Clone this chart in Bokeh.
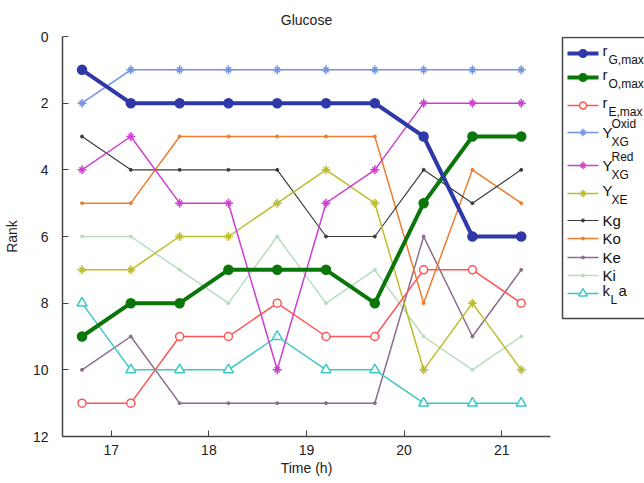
from bokeh.plotting import figure
from bokeh.models import Range1d, FixedTicker
from bokeh.layouts import row
from bokeh.embed import file_html
from bokeh.resources import INLINE
from bokeh.core.properties import value

# ---------------- data ----------------
times = [16.7, 17.2, 17.7, 18.2, 18.7, 19.2, 19.7, 20.2, 20.7, 21.2]
r_G_max = [1, 2, 2, 2, 2, 2, 2, 3, 6, 6]
r_O_max = [9, 8, 8, 7, 7, 7, 8, 5, 3, 3]
r_E_max = [11, 11, 9, 9, 8, 9, 9, 7, 7, 8]
Y_XG_oxid = [2, 1, 1, 1, 1, 1, 1, 1, 1, 1]
Y_XG_red = [4, 3, 5, 5, 10, 5, 4, 2, 2, 2]
Y_XE = [7, 7, 6, 6, 5, 4, 5, 10, 8, 10]
Kg = [3, 4, 4, 4, 4, 6, 6, 4, 5, 4]
Ko = [5, 5, 3, 3, 3, 3, 3, 8, 4, 5]
Ke = [10, 9, 11, 11, 11, 11, 11, 6, 9, 7]
Ki = [6, 6, 7, 8, 6, 8, 7, 9, 10, 9]
kLa = [8, 10, 10, 10, 9, 10, 10, 11, 11, 11]

x_ticks = [17, 18, 19, 20, 21]
y_ticks = [0, 2, 4, 6, 8, 10, 12]

leg_main = ["r", "r", "r", "Y", "Y", "Y", "Kg", "Ko", "Ke", "Ki", "k"]
leg_sub = ["G,max", "O,max", "E,max", "XG", "XG", "XE", "", "", "", "", "L"]
leg_sup = ["", "", "", "Oxid", "Red", "", "", "", "", "", ""]
leg_tail = ["", "", "", "", "", "", "", "", "", "", "a"]

FONT = "Liberation Sans"

# series styling: (values, color, width, marker, marker size, fill)
series = [
    (r_G_max, "#2f38a8", 4, "circle", 9, True),
    (r_O_max, "#0a760a", 4, "circle", 9, True),
    (r_E_max, "#ff5555", 1.5, "circle", 8, False),
    (Y_XG_oxid, "#7392e4", 1.5, "star8", 9, None),
    (Y_XG_red, "#cf3fcf", 1.5, "star8", 9, None),
    (Y_XE, "#bdbd2a", 1.5, "star8", 9, None),
    (Kg, "#3c3c3c", 1.2, "dot", 3, True),
    (Ko, "#f07c30", 1.5, "dot", 3, True),
    (Ke, "#8a6d8a", 1.5, "dot", 3, True),
    (Ki, "#b9dcc0", 1.5, "dot", 3, True),
    (kLa, "#3cc8c8", 1.5, "triangle", 10, False),
]

AX = "#444444"

p = figure(width=560, height=483, output_backend="svg", toolbar_location=None,
           x_range=Range1d(16.5, 21.5), y_range=Range1d(12, 0),
           min_border_left=60, min_border_right=10, min_border_top=36,
           min_border_bottom=47, title="Glucose")
p.title.align = "center"
p.title.text_font = FONT
p.title.text_font_size = "14px"
p.title.text_font_style = "normal"
p.title.text_color = "#222222"
p.title.standoff = 17
p.outline_line_color = None
p.grid.visible = False
p.background_fill_color = "white"
p.border_fill_color = "white"

for ax in (p.xaxis[0], p.yaxis[0]):
    ax.axis_line_color = AX
    ax.axis_line_width = 1.5
    ax.major_tick_line_color = AX
    ax.major_tick_in = 6
    ax.major_tick_out = 0
    ax.minor_tick_line_color = None
    ax.major_label_text_font = FONT
    ax.major_label_text_font_size = "14px"
    ax.major_label_text_color = "#222222"
    ax.axis_label_text_font = FONT
    ax.axis_label_text_font_size = "14px"
    ax.axis_label_text_font_style = "normal"
    ax.axis_label_text_color = "#222222"

p.xaxis.ticker = FixedTicker(ticks=x_ticks)
p.yaxis.ticker = FixedTicker(ticks=y_ticks)
p.xaxis.axis_label = "Time (h)"
p.yaxis.axis_label = "Rank"
p.xaxis.major_label_standoff = 8
p.xaxis.axis_label_standoff = 2
p.yaxis.major_label_standoff = 14
p.yaxis.axis_label_standoff = 10


def draw_markers(fig, xs, ys, color, marker, size, fill):
    if marker == "star8":
        fig.scatter(xs, ys, marker="cross", size=size, line_color=color, line_width=1.5)
        fig.scatter(xs, ys, marker="x", size=size * 0.8, line_color=color, line_width=1.5)
    elif marker == "dot":
        fig.scatter(xs, ys, marker="circle", size=size, line_color=color, fill_color=color)
    else:
        fig.scatter(xs, ys, marker=marker, size=size, line_color=color, line_width=1.5,
                    fill_color=color if fill else "white")


# draw thin lines first, thick on top
order = [9, 8, 7, 6, 10, 5, 4, 3, 2, 1, 0]
for i in order:
    vals, color, w, marker, ms, fill = series[i]
    p.line(times, vals, line_color=color, line_width=w)
    draw_markers(p, times, vals, color, marker, ms, fill)

# ---------------- legend panel ----------------
# the row aligns this frame with the main frame (page y 36..436),
# so the y range below makes data units equal page pixels.
lg = figure(width=84, height=483, output_backend="svg", toolbar_location=None,
            x_range=Range1d(0, 84), y_range=Range1d(436, 36),
            x_axis_type=None, y_axis_type=None, min_border=0)
lg.outline_line_color = None
lg.grid.visible = False
lg.quad(left=[2], right=[140], top=[37], bottom=[318], fill_color="white",
        line_color=AX, line_width=1.5)

leg_y = [53, 77, 105, 132, 165, 193, 220, 238, 257, 275, 293]
char_w = {"r": 6, "Y": 9, "k": 8}
for i, (vals, color, w, marker, ms, fill) in enumerate(series):
    y = leg_y[i]
    lg.line([7, 38], [y, y], line_color=color, line_width=w)
    draw_markers(lg, [22.5], [y], color, marker, ms * 0.85 if ms > 4 else ms, fill)
    main_y = y - 3 if leg_sub[i] and not leg_sup[i] else y
    lg.text([42], [main_y], text=[leg_main[i]], text_font=value(FONT),
            text_font_size="15px", text_baseline="middle", text_color="#111111")
    sx = 42 + char_w.get(leg_main[i], 8)
    if leg_sub[i]:
        lg.text([sx], [main_y + 9], text=[leg_sub[i]], text_font=value(FONT),
                text_font_size="12px", text_baseline="middle", text_color="#111111")
    if leg_sup[i]:
        lg.text([sx], [main_y - 9], text=[leg_sup[i]], text_font=value(FONT),
                text_font_size="12px", text_baseline="middle", text_color="#111111")
    if leg_tail[i]:
        lg.text([sx + 8], [main_y], text=[leg_tail[i]], text_font=value(FONT),
                text_font_size="15px", text_baseline="middle", text_color="#111111")

layout = row(p, lg)
open("out.html", "w").write(file_html(layout, INLINE))
